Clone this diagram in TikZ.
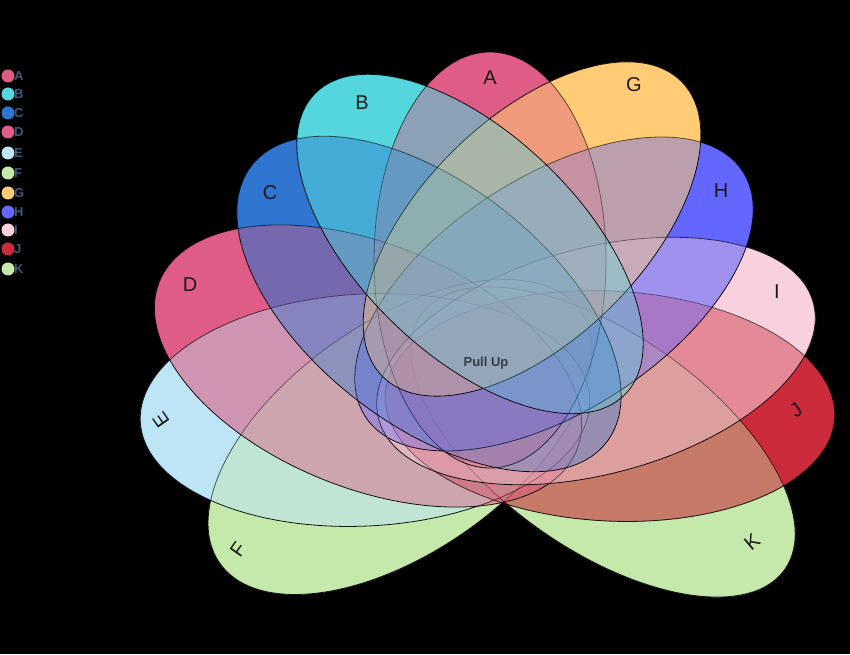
\documentclass[tikz,border=0pt]{standalone}
\usepackage{fontspec}
\setmainfont{Liberation Sans}
\definecolor{colA}{HTML}{DE5C85}
\definecolor{colB}{HTML}{55D6DC}
\definecolor{colC}{HTML}{2F74CF}
\definecolor{colD}{HTML}{DE5C85}
\definecolor{colE}{HTML}{BEE5F5}
\definecolor{colF}{HTML}{C5E8AB}
\definecolor{colG}{HTML}{FFCB75}
\definecolor{colH}{HTML}{6366FF}
\definecolor{colI}{HTML}{F8D0DE}
\definecolor{colJ}{HTML}{CC2B3B}
\definecolor{colK}{HTML}{C5E8AB}
\definecolor{legtext}{HTML}{3F5A78}
\definecolor{centertext}{HTML}{2F3E4A}
\begin{document}
\begin{tikzpicture}[x=1pt,y=1pt,
  layer/.style={fill opacity=0.3},
  petal/.style={draw=black, line width=0.8pt, fill opacity=0.3, draw opacity=0.9},
  setlabel/.style={font=\fontsize{20}{24}\selectfont, text=black!90, inner sep=0pt},
  legdot/.style={circle, inner sep=0pt, minimum size=13pt},
  legtxt/.style={anchor=west, font=\bfseries\fontsize{13}{15}\selectfont, text=legtext, inner sep=0pt}]
\useasboundingbox (0,0) rectangle (850,654);
\fill[black] (0,0) rectangle (850,654);
% petal shapes (centre, semi-axes, axis angle)
\def\shA{(490,394) circle [x radius=208pt, y radius=116pt, rotate=90]}
\def\shB{(470,410) circle [x radius=216pt, y radius=110pt, rotate=-44]}
\def\shC{(429,350) circle [x radius=225pt, y radius=120pt, rotate=-38]}
\def\shD{(368,288) circle [x radius=225pt, y radius=122pt, rotate=-22]}
\def\shE{(365,244) circle [x radius=225pt, y radius=116pt, rotate=3]}
\def\shF{(400,217) circle [x radius=220pt, y radius=115pt, rotate=35]}
\def\shG{(532,425) circle [x radius=210pt, y radius=111pt, rotate=44.5]}
\def\shH{(554,360) circle [x radius=225pt, y radius=117pt, rotate=33]}
\def\shI{(596,293) circle [x radius=225pt, y radius=113pt, rotate=15]}
\def\shJ{(610,248) circle [x radius=225pt, y radius=115pt, rotate=-3]}
\def\shK{(603,212) circle [x radius=222pt, y radius=108pt, rotate=-35]}
% order of the layers, bottom to top: F K E J D I A H C G B
% opaque base: bottom-most colour in every region
\fill[colB] \shB; \fill[colG] \shG; \fill[colC] \shC; \fill[colH] \shH;
\fill[colA] \shA; \fill[colI] \shI; \fill[colD] \shD; \fill[colJ] \shJ;
\fill[colE] \shE; \fill[colK] \shK; \fill[colF] \shF;
% translucent layers, repeated so that overlaps settle on the blended colour
\foreach \pass in {1,...,5}{
  \path[layer, fill=colF] \shF; \path[layer, fill=colK] \shK;
  \path[layer, fill=colE] \shE; \path[layer, fill=colJ] \shJ;
  \path[layer, fill=colD] \shD; \path[layer, fill=colI] \shI;
  \path[layer, fill=colA] \shA; \path[layer, fill=colH] \shH;
  \path[layer, fill=colC] \shC; \path[layer, fill=colG] \shG;
  \path[layer, fill=colB] \shB;
}
\path[petal, fill=colF] \shF; \path[petal, fill=colK] \shK;
\path[petal, fill=colE] \shE; \path[petal, fill=colJ] \shJ;
\path[petal, fill=colD] \shD; \path[petal, fill=colI] \shI;
\path[petal, fill=colA] \shA; \path[petal, fill=colH] \shH;
\path[petal, fill=colC] \shC; \path[petal, fill=colG] \shG;
\path[petal, fill=colB] \shB;
% set labels
\node[setlabel] (lA) at (490,576) {A};
\node[setlabel] (lB) at (362,551) {B};
\node[setlabel] (lC) at (270,461) {C};
\node[setlabel] (lD) at (190,369) {D};
\node[setlabel, rotate=125] (lE) at (161,234) {E};
\node[setlabel, rotate=55] (lF) at (238,104) {F};
\node[setlabel] (lG) at (634,569) {G};
\node[setlabel] (lH) at (721,463) {H};
\node[setlabel] (lI) at (777,362) {I};
\node[setlabel, rotate=35] (lJ) at (796,244) {J};
\node[setlabel, rotate=40] (lK) at (752,112) {K};
\node[font=\bfseries\fontsize{13}{15}\selectfont, text=centertext] (pull) at (486,291) {Pull Up};
% legend
\foreach \n/\y in {A/578,B/560,C/541,D/522,E/501,F/481,G/461,H/442,I/424,J/405,K/385}{
  \node[legdot, fill=col\n] (d\n) at (8,\y) {};
  \node[legtxt] (t\n) at (14,\y) {\n};
}
\end{tikzpicture}
\end{document}
